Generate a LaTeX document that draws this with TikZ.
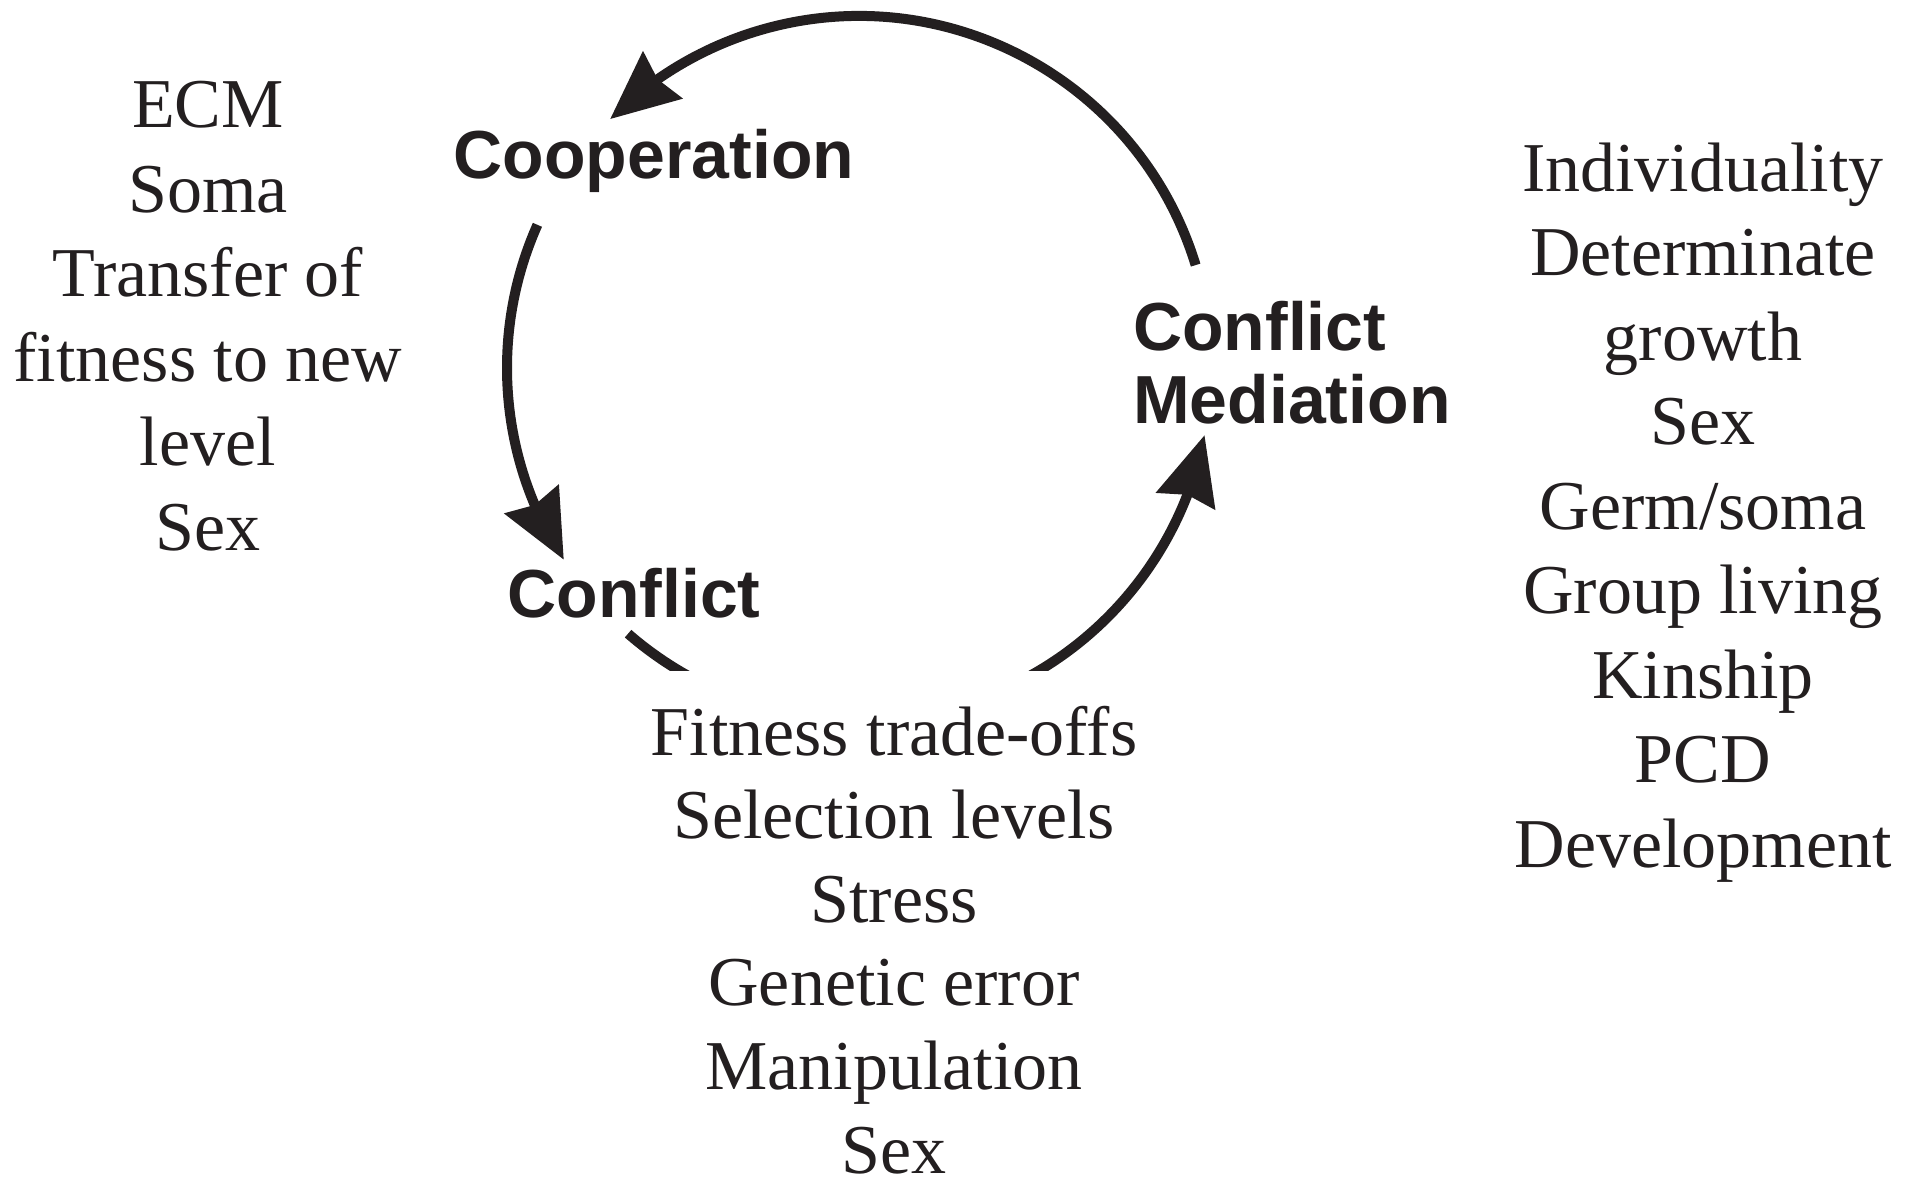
\documentclass[tikz,border=0pt]{standalone}
\usepackage{fontspec}
\setmainfont{Liberation Serif}
\newfontfamily\labelsans{Liberation Sans}
\usetikzlibrary{arrows.meta,bending}
\definecolor{ink}{HTML}{231F20}
\begin{document}
\begin{tikzpicture}[x=1pt,y=1pt,
  cycleline/.style={line width=10pt, draw=ink,
    -{Stealth[length=68pt,width=60pt,inset=6pt,flex]}},
  stage/.style={font=\labelsans\bfseries\fontsize{68}{73}\selectfont,
    text=ink, inner sep=0pt, align=left},
  factors/.style={font=\fontsize{70}{84.5}\selectfont,
    text=ink, inner sep=0pt, align=center}]
\useasboundingbox (0,0) rectangle (1916,-1178);

% centre of the cycle
\coordinate (c) at (859,-368);

% stage labels (multi-line nodes sit on the baseline of their last line)
\node[stage, anchor=base] (coop) at (654,-178) {Cooperation};
\node[stage, anchor=base] (confl) at (634,-617) {Conflict};
\node[stage, anchor=base west] (med) at (1133,-423) {Conflict\\Mediation};

% arc end points on the cycle
\path (c) ++(17:352)  coordinate (medOut)
      (c) ++(156:352) coordinate (coopOut)
      (c) ++(229:352) coordinate (conflOut);

% the cycle of arrows
\draw[cycleline] (medOut) arc[start angle=17, end angle=135, radius=352];
\draw[cycleline] (coopOut) arc[start angle=156, end angle=213, radius=352];
\draw[cycleline] (conflOut) arc[start angle=229, end angle=349, radius=352];

% factor lists
\node[factors, anchor=base] (coopF) at (208,-550)
  {ECM\\Soma\\Transfer of\\fitness to new\\level\\Sex};
\node[factors, anchor=base] (medF) at (1703,-867)
  {Individuality\\Determinate\\growth\\Sex\\Germ/soma\\Group living\\Kinship\\PCD\\Development};
% the white box of the lower list hides the bottom of the cycle
\node[factors, font=\fontsize{70}{83.6}\selectfont, anchor=base, fill=white,
      inner xsep=24pt, inner ysep=35pt] (conflF) at (894,-1173)
  {Fitness trade-offs\\Selection levels\\Stress\\Genetic error\\Manipulation\\Sex};
\end{tikzpicture}
\end{document}
